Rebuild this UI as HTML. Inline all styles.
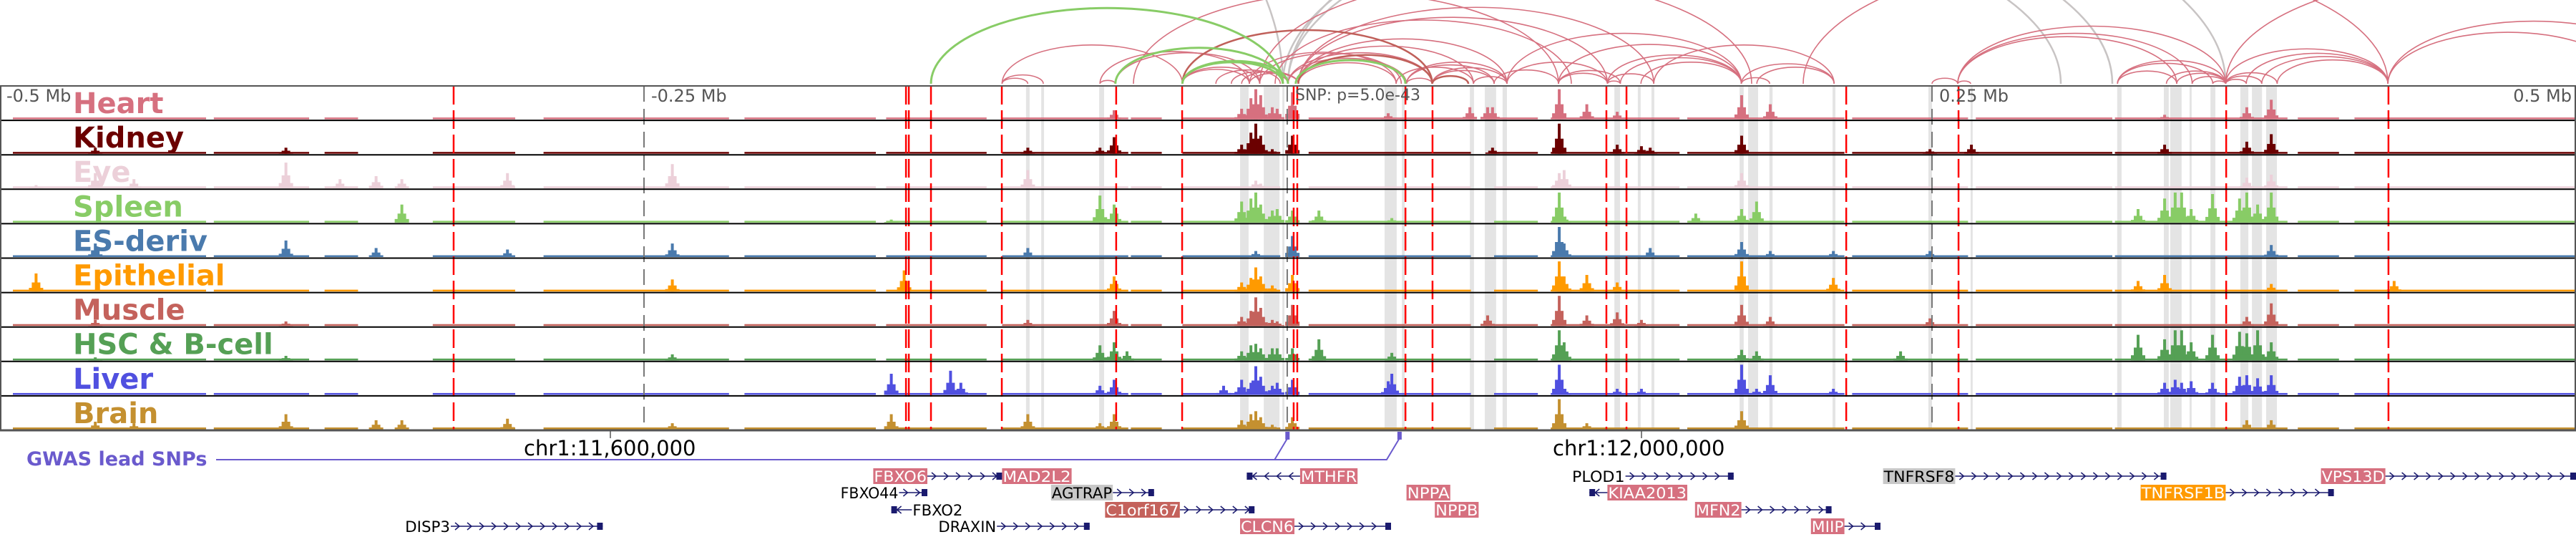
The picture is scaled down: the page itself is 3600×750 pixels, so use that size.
<!DOCTYPE html>
<html><head><meta charset="utf-8">
<style>
html,body{margin:0;padding:0;background:#fff;}
svg{display:block;}
text{font-family:"DejaVu Sans","Liberation Sans",sans-serif;}
</style></head>
<body>
<svg id="chart" width="3600" height="750" viewBox="0 0 3600 750" xmlns="http://www.w3.org/2000/svg"></svg>
<script>
// ---- data (genomic positions in kb relative to lead SNP) ----
const trackNames = ["Heart","Kidney","Eye","Spleen","ES-deriv","Epithelial","Muscle","HSC & B-cell","Liver","Brain"];
const trackColors = ["#d6707f","#6b0000","#ecd0d9","#88cc66","#4a7aad","#ff9a00","#c4625c","#55a055","#5050e0","#c49030"];
const heartPeaks = [[-67.5,.3],[-18,.35],[-14.4,.7],[-12.5,1],[-10.6,.8],[-6.1,.4],[-4.2,.35],[1.7,.9],[38.9,.2],[70.6,.4],[77.5,.4],[79.4,.4],[105.3,1],[116,.5],[127.8,.25],[176.1,.8],[187.2,.5],[340.3,.15],[372.2,.4],[381.7,.65]];
const kidneyPeaks = [[-463,.2],[-389,.2],[-101,.2],[-73,.2],[-67.5,.55],[-18,.3],[-14.4,.7],[-12.5,1],[-10.6,.6],[-6.1,.15],[1.7,.6],[79.4,.2],[105.3,1],[127.8,.3],[137.2,.25],[140.6,.2],[176.1,.6],[249.2,.15],[265.3,.3],[340.3,.3],[372.2,.4],[381.7,.65]];
const eyePeaks = [[-486,.1],[-463,.5],[-448,.3],[-389,.85],[-368,.3],[-354,.4],[-344,.3],[-303,.5],[-239,.8],[-101,.6],[-12.5,.25],[-10.6,.15],[105.3,.5],[107.2,.6],[176.1,.5],[372.2,.35],[381.7,.45]];
const spleenPeaks = [[-344,.6],[-154,.1],[-73,.9],[-67.5,.6],[-18,.7],[-14.4,.8],[-12.5,1],[-10.6,.6],[-6.1,.4],[-4.2,.45],[1.7,.4],[12,.4],[40.3,.15],[105.3,1],[107.2,.2],[158.3,.3],[176.1,.45],[181.9,.7],[330,.45],[340.3,.8],[344.4,1],[346.9,1],[350.6,.45],[358.9,.95],[369.4,.8],[372.2,1],[376.4,.6],[381.7,1]];
const esPeaks = [[-463,.45],[-389,.55],[-354,.3],[-303,.25],[-239,.45],[-101,.3],[-12.5,.2],[1.7,.7],[105.3,1],[107.2,.45],[140.6,.3],[176.1,.5],[187.2,.2],[211.7,.2],[249.2,.2],[381.7,.4]];
const epiPeaks = [[-486,.6],[-239,.4],[-149,.7],[-67.5,.5],[-18,.3],[-14.4,.45],[-12.5,.8],[-10.6,.5],[-6.1,.2],[1.7,.55],[105.3,1],[107.2,.5],[116,.55],[127.8,.3],[176.1,1],[211.7,.45],[330,.35],[340.3,.55],[381.7,.25],[429.4,.35]];
const musclePeaks = [[-463,.2],[-389,.15],[-101,.2],[-67.5,.5],[-18,.3],[-14.4,.5],[-12.5,.95],[-10.6,.6],[-6.1,.2],[-4.2,.15],[1.7,.7],[77.5,.35],[105.3,1],[116,.35],[127.8,.45],[137.2,.2],[176.1,.7],[187.2,.3],[249.2,.25],[372.2,.3],[381.7,.75]];
const hscPeaks = [[-463,.1],[-389,.15],[-239,.2],[-73,.5],[-67.5,.6],[-62.5,.3],[-18,.3],[-14.4,.5],[-12.5,.55],[-10.6,.4],[-6.1,.4],[-4.2,.4],[1.7,.4],[12,.7],[40.3,.25],[105.3,1],[107.2,.6],[176.1,.35],[181.9,.3],[237.8,.3],[330,.85],[340.3,.7],[344.4,1],[346.9,1],[350.6,.6],[358.9,.85],[369.4,.95],[372.2,.9],[376.4,1],[381.7,.6]];
const liverPeaks = [[-154,.7],[-131,.8],[-127,.4],[-73,.3],[-67.5,.5],[-25,.3],[-18,.5],[-14.4,.4],[-12.5,.95],[-10.6,.6],[-6.1,.3],[-4.2,.4],[1.7,.5],[38.9,.45],[40.3,.7],[105.3,1],[107.2,.2],[127.8,.2],[137.2,.2],[176.1,1],[181.9,.2],[187.2,.65],[211.7,.2],[340.3,.4],[344.4,.5],[346.9,.4],[350.6,.45],[358.9,.4],[369.4,.6],[372.2,.65],[376.4,.55],[381.7,.65]];
const brainPeaks = [[-463,.25],[-448,.2],[-389,.5],[-354,.3],[-344,.3],[-303,.35],[-239,.2],[-154,.5],[-101,.5],[-73,.2],[-67.5,.5],[-18,.3],[-14.4,.5],[-12.5,.6],[-10.6,.4],[-6.1,.15],[1.7,.4],[105.3,1],[116,.2],[176.1,.6],[372.2,.3],[381.7,.3]];
const allPeaks = [heartPeaks,kidneyPeaks,eyePeaks,spleenPeaks,esPeaks,epiPeaks,musclePeaks,hscPeaks,liverPeaks,brainPeaks];
const baselineSegments = [[-495,-420],[-417,-380],[-374,-361],[-332,-300],[-289,-217],[-211,-160],[-156,-117],[-111,-62],[-61,-49],[-41,-3],[8,71],[80,97],[102,152],[155,216],[219,264],[267,320],[321,388],[392,408],[414,500]];
const redLines = [-323.9,-148.3,-147.2,-138.6,-111.1,-66.7,-41.1,2.2,3.6,45.6,56.1,123.6,131.4,216.7,260.3,364.2,427.2];
const grayBands = [[-101.7,-100.3],[-95.8,-94.7],[-73.3,-71.4],[-18.6,-15.3],[-9.4,-3.3],[-2.2,-1.4],[37.5,42.2],[44.2,45.3],[70.6,72.2],[76.4,80.8],[83.3,85],[126.7,128.9],[135.8,136.9],[141.1,142.2],[175.3,176.9],[178.6,182.5],[186.9,188.1],[211.4,212.5],[248.6,250],[265,265.8],[321.9,323.6],[340,341.9],[342.5,346.9],[350,350.8],[358.1,360],[369.7,372.8],[374.2,378.1],[379.7,383.9]];
const grayTicks = [-250,250,-0.3];
const axisLabels = ["-0.5 Mb","-0.25 Mb","0.25 Mb","0.5 Mb"];
const axisLabelPos = [-500,-250,250,500];
const pinkArcs = [[-111,-95],[-111,-101],[-111,-41],[-73,-67],[-73,-15],[-67,-11],[-41,-15],[-41,-11],[-28,-3],[-22,0],[-18,4],[-15,4],[-11,44],[-15,42],[0,46],[0,56],[4,42],[4,72],[4,85],[4,124],[4,142],[-11,180],[46,56],[42,72],[46,80],[46,85],[56,80],[56,85],[72,85],[80,105],[85,124],[105,124],[105,129],[124,129],[124,142],[105,176],[124,176],[129,176],[137,176],[142,212],[85,176],[176,187],[176,212],[182,212],[250,260],[260,265],[260,364],[260,345],[260,351],[322,345],[322,359],[322,364],[341,364],[345,364],[351,364],[359,364],[364,372],[364,378],[364,384],[364,427],[372,427],[378,427],[384,427],[427,520],[427,540],[364,560],[200,427],[-60,105],[-5,110]];
const greenArcs = [[-138.6,-2],[-67,-2],[-41,-2],[-41,0],[3,45.6]];
const grayArcs = [[-900,-2],[0,300],[-2,320],[0,364]];
const brownArcs = [[-41,56],[4,56],[56,70]];
const genes = [
 {name:"FBXO6",row:0,x1:-161,x2:-140,lab:"#d6707f",end:-111,dir:1},
 {name:"MAD2L2",row:0,x1:-111,x2:-84,lab:"#d6707f",end:null,dir:-1},
 {name:"MTHFR",row:0,x1:4.7,x2:27,lab:"#d6707f",end:-16,dir:-1},
 {name:"PLOD1",row:0,x1:110,x2:131,lab:null,end:173,dir:1},
 {name:"TNFRSF8",row:0,x1:231,x2:259,lab:"#c8c8c8",end:341,dir:1},
 {name:"VPS13D",row:0,x1:401,x2:426,lab:"#d6707f",end:500,dir:1},
 {name:"FBXO44",row:1,x1:-174,x2:-151,lab:null,end:-140,dir:1},
 {name:"AGTRAP",row:1,x1:-92,x2:-68,lab:"#c8c8c8",end:-52,dir:1},
 {name:"NPPA",row:1,x1:46,x2:63,lab:"#d6707f",end:null,dir:-1},
 {name:"KIAA2013",row:1,x1:124,x2:155,lab:"#d6707f",end:117,dir:-1},
 {name:"TNFRSF1B",row:1,x1:331,x2:364,lab:"#ff9a00",end:406,dir:1},
 {name:"FBXO2",row:2,x1:-146,x2:-126,lab:null,end:-154,dir:-1},
 {name:"C1orf167",row:2,x1:-71,x2:-42,lab:"#c4625c",end:-13,dir:1},
 {name:"NPPB",row:2,x1:57,x2:74,lab:"#d6707f",end:null,dir:-1},
 {name:"MFN2",row:2,x1:158,x2:176,lab:"#d6707f",end:211,dir:1},
 {name:"DISP3",row:3,x1:-343,x2:-325,lab:null,end:-266,dir:1},
 {name:"DRAXIN",row:3,x1:-136,x2:-113,lab:null,end:-77,dir:1},
 {name:"CLCN6",row:3,x1:-18.6,x2:2.5,lab:"#d6707f",end:40,dir:1},
 {name:"MIIP",row:3,x1:203,x2:216,lab:"#d6707f",end:230,dir:1}
];
const snpPositions = [-0.2,43.3];

// ---- scales ----
const X = kb => 1800 + kb*3.6;
const TOP = 120, TH = 48.1, NT = 10, BOT = TOP + TH*NT;
const svg = document.getElementById('chart');
const NS = "http://www.w3.org/2000/svg";
function mk(tag, attrs, parent){ const e=document.createElementNS(NS,tag); for(const k in attrs) e.setAttribute(k,attrs[k]); (parent||svg).appendChild(e); return e; }

// gray bands
const gb = mk('g',{});


grayBands.forEach(b=>{ mk('rect',{x:X(b[0]),y:TOP,width:Math.max(2,X(b[1])-X(b[0])),height:BOT-TOP,fill:'#e4e4e4'},gb); });

// tracks
for(let t=0;t<NT;t++){
  const g = mk('g',{});
  
  
  const y0 = TOP + t*TH, base = y0+TH-1.5, col = trackColors[t];
  baselineSegments.forEach(s=>{ mk('rect',{x:X(s[0]),y:base-2.5,width:X(s[1])-X(s[0]),height:2.5,fill:col},g); });
  allPeaks[t].forEach(p=>{
    const h = p[1]*42;
    mk('rect',{x:X(p[0])-2,y:base-h,width:4,height:h,fill:col},g);
    mk('rect',{x:X(p[0])-6,y:base-h*0.5,width:12,height:h*0.5,fill:col},g);
    mk('rect',{x:X(p[0])-10,y:base-h*0.2,width:20,height:h*0.2,fill:col},g);
  });
}
// red dashed lines
const rl = mk('g',{});


redLines.forEach(v=>{ mk('line',{x1:X(v),x2:X(v),y1:TOP,y2:BOT,stroke:'#f00','stroke-width':2.5,'stroke-dasharray':'26,8'},rl); });
grayTicks.forEach(v=>{ mk('line',{x1:X(v),x2:X(v),y1:TOP,y2:BOT,stroke:'#777','stroke-width':2,'stroke-dasharray':'22,10'},rl); });
// separators
for(let t=0;t<=NT;t++){ const y=TOP+t*TH; mk('line',{x1:0,x2:3600,y1:y,y2:y,stroke:(t==0||t==NT)?'#555':'#000','stroke-width':t==NT?3:2}); }
mk('line',{x1:1,x2:1,y1:TOP,y2:BOT,stroke:'#555','stroke-width':2});
mk('line',{x1:3599,x2:3599,y1:TOP,y2:BOT,stroke:'#555','stroke-width':2});
// track labels
for(let t=0;t<NT;t++){
  const e = mk('text',{x:102,y:TOP+t*TH+38,'font-size':40,'font-weight':'bold',fill:trackColors[t]});
  e.textContent = trackNames[t];
  
  
}
// axis labels
axisLabels.forEach((l,i)=>{
  const v=axisLabelPos[i];
  const e=mk('text',{x: v==-500?9:(v==500?3594:X(v)+10),y:142,'font-size':24,fill:'#555','text-anchor':v==500?'end':'start'});
  e.textContent=l;
  
  
});
const snpT = mk('text',{x:1810,y:140,'font-size':22,fill:'#555'});
snpT.textContent='SNP: p=5.0e-43';



// arcs
const ag = mk('g',{});


function arc(a,col,w){
  const x1=X(a[0]),x2=X(a[1]),rx=(x2-x1)/2,ry=rx*0.43,yb=117;
  mk('path',{d:`M${x1},${yb} A${rx},${ry} 0 0 1 ${x2},${yb}`,fill:'none',stroke:col,'stroke-width':w},ag);
}
grayArcs.forEach(a=>arc(a,'#c8c4c4',2.5));
pinkArcs.forEach(a=>arc(a,'#d6707f',1.6));
brownArcs.forEach(a=>arc(a,'#c0605a',2.5));
greenArcs.forEach(a=>arc(a,'#88cc66',3));

// chromosome coordinate labels
[[853,'chr1:11,600,000',732],[2294,'chr1:12,000,000',2170]].forEach(c=>{
  mk('line',{x1:c[0],x2:c[0],y1:601,y2:612,stroke:'#555','stroke-width':1.5});
  const e=mk('text',{x:c[2],y:636,'font-size':29,fill:'#000'});
  e.textContent=c[1];
  
  
});

// GWAS SNP track
const gw = mk('text',{x:37,y:650,'font-size':27,'font-weight':'bold',fill:'#6a5acd'});
gw.textContent='GWAS lead SNPs';


const s1=X(snpPositions[0]), s2=X(snpPositions[1]);
mk('path',{d:`M302,642 L${s1-18},642 L${s1},612 M${s1-18},642 L${s2-18},642 L${s2},612`,fill:'none',stroke:'#6a5acd','stroke-width':2});
snpPositions.forEach(v=>{ const r=mk('rect',{x:X(v)-3,y:603,width:6,height:11,fill:'#6a5acd'});   });

// genes
const rowY=[665,688,712,735];
genes.forEach(g=>{
  const grp=mk('g',{});
  
  
  const y=rowY[g.row], a=X(g.x1), b=X(g.x2);
  if(g.end!==null){
    const e=X(g.end), lo=Math.min(e,g.end<g.x1?a:b), hi=Math.max(e,g.end<g.x1?a:b);
    mk('line',{x1:lo,x2:hi,y1:y,y2:y,stroke:'#1a1a6e','stroke-width':1.5},grp);
    for(let xx=lo+10;xx<hi-8;xx+=17){
      const d = g.dir>0?`M${xx-4},${y-5} L${xx+2},${y} L${xx-4},${y+5}`:`M${xx+4},${y-5} L${xx-2},${y} L${xx+4},${y+5}`;
      mk('path',{d:d,fill:'none',stroke:'#1a1a6e','stroke-width':1.5},grp);
    }
    const ex = g.end<g.x1?lo:hi-8;
    mk('rect',{x:ex,y:y-5,width:8,height:10,fill:'#1a1a6e'},grp);
  }
  if(g.lab) mk('rect',{x:a,y:y-11,width:b-a,height:22,fill:g.lab},grp);
  const t=mk('text',{x:(a+b)/2,y:y+8,'font-size':21,'text-anchor':'middle',fill:g.lab&&g.lab!=='#c8c8c8'?'#fff':'#000',textLength:b-a-2,lengthAdjust:'spacingAndGlyphs'},grp);
  t.textContent=g.name;
});
</script>
</body></html>
